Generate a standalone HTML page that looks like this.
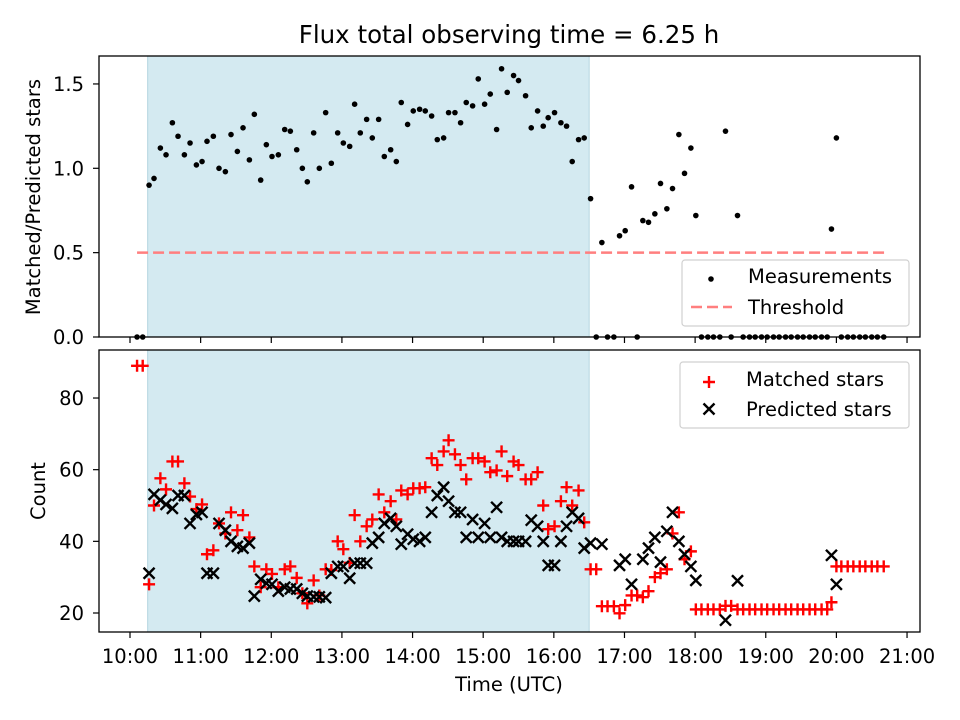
<!DOCTYPE html>
<html><head><meta charset="utf-8"><style>
body{margin:0;background:#fff}
svg{display:block;font-family:"DejaVu Sans","Liberation Sans",sans-serif}
</style></head><body>
<svg id="fig" width="960" height="720" viewBox="0 0 960 720" xmlns="http://www.w3.org/2000/svg">
<rect width="960" height="720" fill="#fff"/>
<text x="509" y="43" font-size="24.5" text-anchor="middle" fill="#000">Flux total observing time = 6.25 h</text>
<g id="topPanel"></g><g id="botPanel"></g>
</svg>
<script>
const times=[10.10,10.18,10.27,10.34,10.43,10.51,10.60,10.68,10.77,10.85,
10.94,11.02,11.09,11.18,11.26,11.35,11.43,11.52,11.60,11.69,
11.76,11.85,11.93,12.01,12.10,12.19,12.27,12.36,12.44,12.51,
12.60,12.68,12.77,12.85,12.94,13.02,13.11,13.18,13.26,13.35,
13.43,13.52,13.60,13.69,13.77,13.84,13.93,14.01,14.10,14.18,
14.27,14.35,14.44,14.51,14.60,14.68,14.76,14.85,14.93,15.02,
15.10,15.19,15.26,15.34,15.43,15.50,15.60,15.68,15.77,15.85,
15.92,16.01,16.10,16.18,16.26,16.35,16.43,16.52,16.60,16.68,
16.76,16.85,16.93,17.01,17.10,17.18,17.26,17.34,17.43,17.51,
17.60,17.68,17.77,17.85,17.94,18.01,
18.09,18.18,18.26,18.35,18.43,18.51,18.60,18.68,18.77,18.85,
18.94,19.02,19.11,19.19,19.28,19.36,19.45,19.53,19.62,19.70,
19.79,19.87,19.93,20.00,20.07,20.16,20.24,20.33,20.41,20.50,20.58,20.67];
const flux=[0,0,.90,.94,1.12,1.08,1.27,1.19,1.08,1.15,
1.02,1.04,1.16,1.19,1.00,.98,1.20,1.10,1.24,1.05,
1.32,.93,1.14,1.07,1.08,1.23,1.22,1.11,1.00,.92,
1.21,1.00,1.33,1.03,1.21,1.15,1.13,1.38,1.21,1.29,
1.18,1.29,1.07,1.11,1.04,1.39,1.26,1.34,1.35,1.34,
1.31,1.17,1.18,1.33,1.33,1.27,1.39,1.37,1.53,1.38,
1.44,1.23,1.59,1.45,1.55,1.52,1.43,1.24,1.34,1.25,
1.30,1.33,1.27,1.25,1.04,1.17,1.18,.82,0,.56,
0,0,.60,.63,.89,0,.69,.68,.73,.91,
.76,.88,1.20,.97,1.12,.72,
0,0,0,0,1.22,0,.72,0,0,0,0,0,0,0,0,0,0,0,0,0,0,0,.64,1.18,0,0,0,0,0,0,0,0];
const matched=[89,89,28,50,57.6,54.5,62.3,62.3,56.2,52.5,
49,50.3,36.4,37.5,45,42.2,48.1,43.1,47.3,41.1,
33,27.2,32.2,30.9,27.2,32.2,33,29.8,25.5,22.7,
29.1,24.9,32.2,32,40,37.8,34,47.3,40,44.2,
46.1,53.1,48.1,51.2,46.1,54.2,53.1,54.8,54.8,55.1,
63.2,61.3,65.1,68.2,64.3,61.3,57.3,63.2,63.2,62.3,
59.3,59.8,65.1,58.2,62.3,61.3,57.3,57.3,59.3,50,
43.4,44.2,51.2,55.1,50,54.2,45.3,32.2,32.2,21.9,
21.9,21.9,19.9,22.2,24.9,24.9,24.4,26.1,30,31.1,
32.2,42.2,48.1,35,37.2,21,
21,21,21,21,22,22,21,21,21,21,21,21,21,21,21,21,21,21,21,21,21,21,23,33,33,33,33,33,33,33,33,33];
const predicted=[null,null,31.1,53.1,51.5,50.3,49.2,52.8,52.8,45,
47.5,48.1,31.1,31.1,45,43.1,40,38.6,38.1,39.5,
24.7,29.4,28.3,28,26.1,27.2,26.7,26.7,25.5,24.7,
24.5,24.5,24.3,31.1,33,33,29.7,33.9,33.9,33.9,
39.5,41.1,45,46.4,44.2,39.2,42,40.6,40,41.1,
48.1,52.8,55.1,51.2,48.1,48.1,41.1,46.1,41.1,45,
41.1,49.5,41.1,40,40,40,40,45.9,44.2,40,
33.3,33.3,40,44.2,48.1,46.4,38.1,39.5,null,39.2,
null,null,33.3,35,28,null,35,38.1,41.1,34.2,
42.8,48.1,40,36.4,33,29.1,
null,null,null,null,18,null,29,null,null,null,null,null,null,null,null,null,null,null,null,null,null,null,36.1,28,null,null,null,null,null,null,null,null];
const threshold=0.5, thrStart=10.1, thrEnd=20.7;
const shadeStart=10.25, shadeEnd=16.5;
const xTickLabels=["10:00","11:00","12:00","13:00","14:00","15:00","16:00","17:00","18:00","19:00","20:00","21:00"];
const topTicks=[0,0.5,1.0,1.5], botTicks=[20,40,60,80];

const NS="http://www.w3.org/2000/svg";
const L=99,R=920,T1=56,B1=337,T2=350,B2=632;
const xs=h=>130+(h-10)*70.64;
const y1=v=>337-v*168.7;
const y2=v=>613-(v-20)*3.583;
function mk(p,tag,a){const e=document.createElementNS(NS,tag);for(const k in a)e.setAttribute(k,a[k]);p.appendChild(e);return e;}
const gTop=document.getElementById('topPanel'), gBot=document.getElementById('botPanel');

function panel(g,T,B,name){
  const sh=mk(g,'rect',{x:xs(shadeStart),y:T,width:xs(shadeEnd)-xs(shadeStart),height:B-T,fill:'#d4eaf1',stroke:'#b5d6e0','stroke-width':1});
  
  
}
panel(gTop,T1,B1,'top');panel(gBot,T2,B2,'bottom');

const th=mk(gTop,'line',{x1:xs(thrStart),x2:xs(thrEnd),y1:y1(threshold),y2:y1(threshold),stroke:'#ff7f7f','stroke-width':2.5,'stroke-dasharray':'11 5'});



times.forEach((t,i)=>{
  const c=mk(gTop,'circle',{cx:xs(t),cy:y1(flux[i]),r:2.8,fill:'#000'});
  
  
});
times.forEach((t,i)=>{
  if(matched[i]==null)return;
  const x=xs(t),y=y2(matched[i]),s=6;
  const p=mk(gBot,'path',{d:`M${x-s} ${y}H${x+s}M${x} ${y-s}V${y+s}`,stroke:'#ff0000','stroke-width':2.4,fill:'none'});
  
  
});
times.forEach((t,i)=>{
  if(predicted[i]==null)return;
  const x=xs(t),y=y2(predicted[i]),s=5.5;
  const p=mk(gBot,'path',{d:`M${x-s} ${y-s}L${x+s} ${y+s}M${x-s} ${y+s}L${x+s} ${y-s}`,stroke:'#000','stroke-width':2.4,fill:'none'});
  
  
});

[[gTop,T1,B1,'top'],[gBot,T2,B2,'bottom']].forEach(([g,T,B,n])=>{
  const f=mk(g,'rect',{x:L,y:T,width:R-L,height:B-T,fill:'none',stroke:'#000','stroke-width':1.3});
  
  
  xTickLabels.forEach((lab,i)=>{
    const x=xs(10+i);
    const tk=mk(g,'line',{x1:x,x2:x,y1:B,y2:B+6,stroke:'#000','stroke-width':1.2});
    
    
    if(n==='bottom'){
      const tx=mk(g,'text',{x:x,y:663,'font-size':19.5,'text-anchor':'middle'});
      tx.textContent=lab;
      
      
    }
  });
});
topTicks.forEach(v=>{
  const y=y1(v);
  const tk=mk(gTop,'line',{x1:L-6,x2:L,y1:y,y2:y,stroke:'#000','stroke-width':1.2});
  
  
  const tx=mk(gTop,'text',{x:84,y:y+7,'font-size':19.5,'text-anchor':'end'});
  tx.textContent=v.toFixed(1);
  
  
});
botTicks.forEach(v=>{
  const y=y2(v);
  const tk=mk(gBot,'line',{x1:L-6,x2:L,y1:y,y2:y,stroke:'#000','stroke-width':1.2});
  
  
  const tx=mk(gBot,'text',{x:84,y:y+7,'font-size':19.5,'text-anchor':'end'});
  tx.textContent=String(v);
  
  
});
let a=mk(gTop,'text',{x:0,y:0,'font-size':19.5,'text-anchor':'middle',transform:'translate(40,197) rotate(-90)'});
a.textContent='Matched/Predicted stars';


a=mk(gBot,'text',{x:0,y:0,'font-size':19.5,'text-anchor':'middle',transform:'translate(45,491) rotate(-90)'});
a.textContent='Count';


a=mk(gBot,'text',{x:509,y:691,'font-size':19.5,'text-anchor':'middle'});
a.textContent='Time (UTC)';



function legend(g,x,y,w,h,name){
  const r=mk(g,'rect',{x:x,y:y,width:w,height:h,rx:3,fill:'#fff','fill-opacity':0.8,stroke:'#d0d0d0','stroke-width':1.2});
  
  
}
legend(gTop,682,260,227,66,'top-legend');
let c=mk(gTop,'circle',{cx:711,cy:279,r:2.8,fill:'#000'});


let t=mk(gTop,'text',{x:748,y:283,'font-size':19.5});
t.textContent='Measurements';


let l=mk(gTop,'line',{x1:691,x2:732,y1:307,y2:307,stroke:'#ff7f7f','stroke-width':2.5,'stroke-dasharray':'11 5'});


t=mk(gTop,'text',{x:748,y:314,'font-size':19.5});
t.textContent='Threshold';



legend(gBot,680,362,229,66,'bottom-legend');
let p=mk(gBot,'path',{d:'M703 382H715M709 376V388',stroke:'#ff0000','stroke-width':2.4});


t=mk(gBot,'text',{x:746,y:386,'font-size':19.5});
t.textContent='Matched stars';


p=mk(gBot,'path',{d:'M703.5 403.5L714.5 414.5M703.5 414.5L714.5 403.5',stroke:'#000','stroke-width':2.4});


t=mk(gBot,'text',{x:746,y:416,'font-size':19.5});
t.textContent='Predicted stars';


</script>
</body></html>
